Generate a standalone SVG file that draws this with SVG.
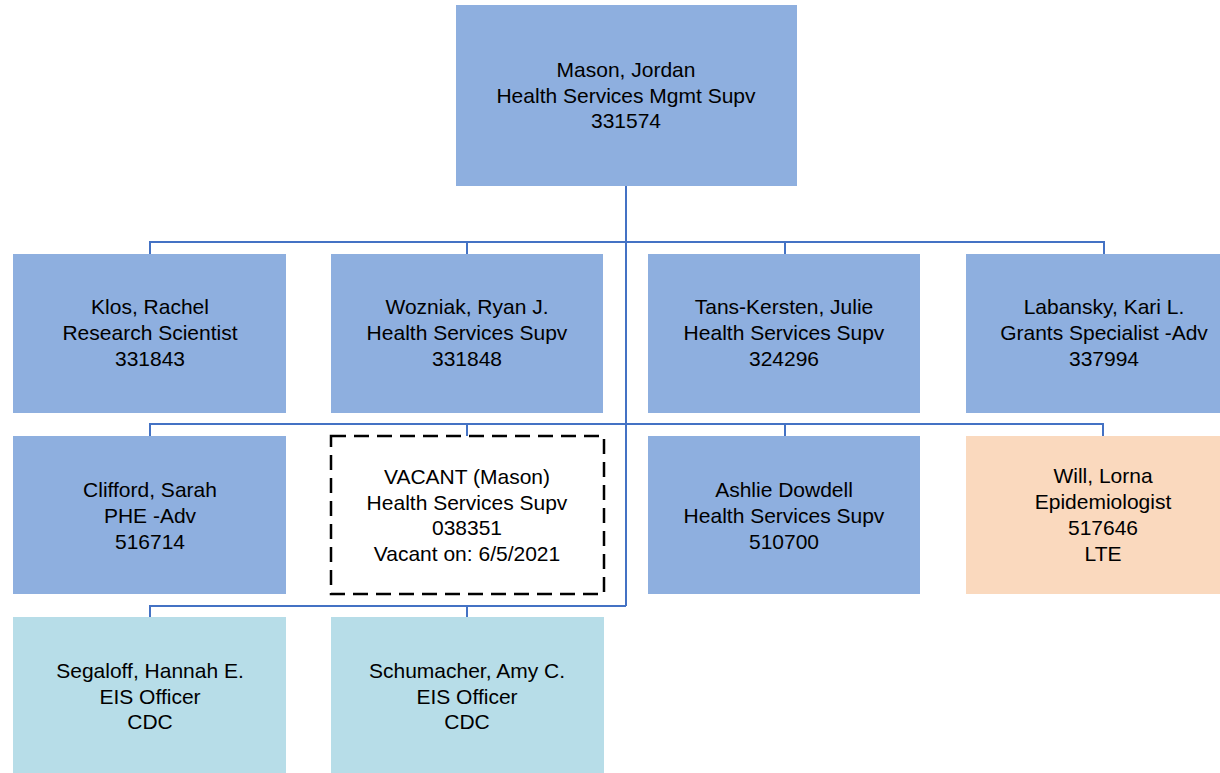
<svg xmlns="http://www.w3.org/2000/svg" width="1220" height="773" viewBox="0 0 1220 773">
<style>
.b{fill:#8EAFDF}
.c{fill:#B7DDE8}
.o{fill:#FAD9BE}
.v{fill:#FFFFFF;stroke:#000000;stroke-width:2.5;stroke-dasharray:15 8}
text{font-family:"Liberation Sans",Arial,sans-serif;font-size:21px;fill:#000000;text-anchor:middle}
.ln{stroke:#4472C4;stroke-width:2;fill:none}
</style>
<rect width="1220" height="773" fill="#FFFFFF"/>
<g id="connectors" class="ln">
<path d="M626 186V606"/>
<path d="M150 254V242H1104V254M467 242V254M785 242V254"/>
<path d="M150 436V424H1103V436M467 424V436M785 424V436"/>
<path d="M150 618V606H626M467 606V618"/>
</g>
<g id="mason"><rect class="b" x="456" y="5" width="341" height="181"/>
<text x="626" y="77">Mason, Jordan<tspan x="626" dy="25.5">Health Services Mgmt Supv</tspan><tspan x="626" dy="25.5">331574</tspan></text></g>
<g id="klos"><rect class="b" x="13" y="254" width="273" height="159"/>
<text x="150" y="314">Klos, Rachel<tspan x="150" dy="26">Research Scientist</tspan><tspan x="150" dy="26">331843</tspan></text></g>
<g id="wozniak"><rect class="b" x="331" y="254" width="272" height="159"/>
<text x="467" y="314">Wozniak, Ryan J.<tspan x="467" dy="26">Health Services Supv</tspan><tspan x="467" dy="26">331848</tspan></text></g>
<g id="tans"><rect class="b" x="648" y="254" width="272" height="159"/>
<text x="784" y="314">Tans-Kersten, Julie<tspan x="784" dy="26">Health Services Supv</tspan><tspan x="784" dy="26">324296</tspan></text></g>
<g id="labansky"><rect class="b" x="966" y="254" width="254" height="159"/>
<text x="1104" y="314">Labansky, Kari L.<tspan x="1104" dy="26">Grants Specialist -Adv</tspan><tspan x="1104" dy="26">337994</tspan></text></g>
<g id="clifford"><rect class="b" x="13" y="436" width="273" height="158"/>
<text x="150" y="497">Clifford, Sarah<tspan x="150" dy="26">PHE -Adv</tspan><tspan x="150" dy="26">516714</tspan></text></g>
<g id="vacant"><rect class="v" x="331" y="436" width="273" height="158"/>
<text x="467" y="484">VACANT (Mason)<tspan x="467" dy="25.5">Health Services Supv</tspan><tspan x="467" dy="25.5">038351</tspan><tspan x="467" dy="25.5">Vacant on: 6/5/2021</tspan></text></g>
<g id="dowdell"><rect class="b" x="648" y="436" width="272" height="158"/>
<text x="784" y="497">Ashlie Dowdell<tspan x="784" dy="26">Health Services Supv</tspan><tspan x="784" dy="26">510700</tspan></text></g>
<g id="will"><rect class="o" x="966" y="436" width="254" height="158"/>
<text x="1103" y="483">Will, Lorna<tspan x="1103" dy="26">Epidemiologist</tspan><tspan x="1103" dy="26">517646</tspan><tspan x="1103" dy="26">LTE</tspan></text></g>
<g id="segaloff"><rect class="c" x="13" y="617" width="273" height="156"/>
<text x="150" y="678">Segaloff, Hannah E.<tspan x="150" dy="25.5">EIS Officer</tspan><tspan x="150" dy="25.5">CDC</tspan></text></g>
<g id="schumacher"><rect class="c" x="331" y="617" width="273" height="156"/>
<text x="467" y="678">Schumacher, Amy C.<tspan x="467" dy="25.5">EIS Officer</tspan><tspan x="467" dy="25.5">CDC</tspan></text></g>
</svg>
